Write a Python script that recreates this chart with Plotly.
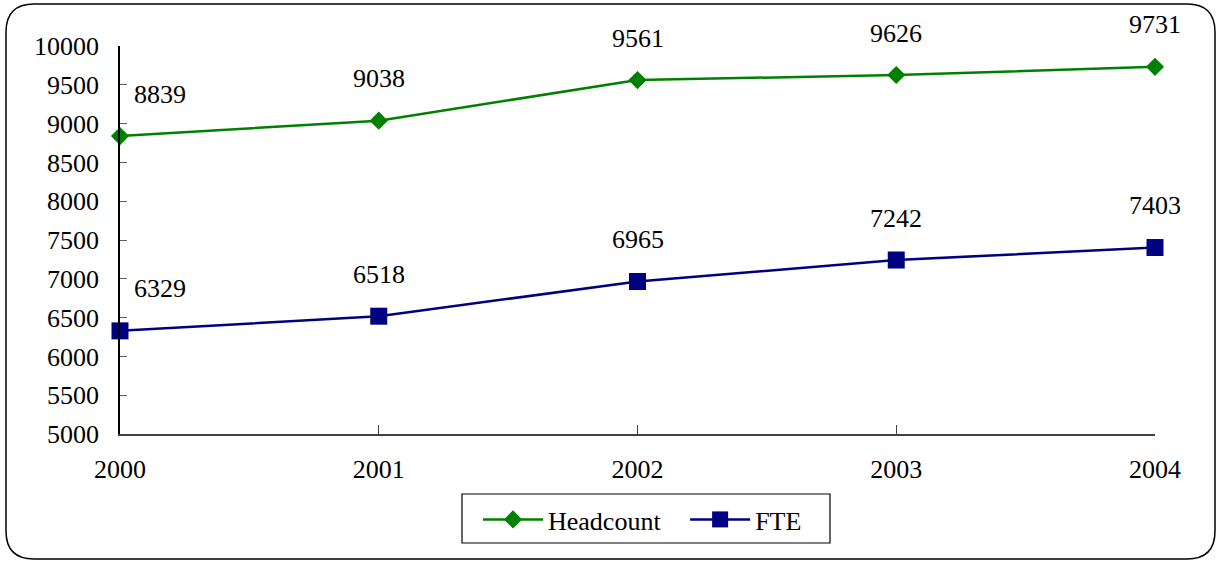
import plotly.graph_objects as go

years = ["2000", "2001", "2002", "2003", "2004"]
headcount = [8839, 9038, 9561, 9626, 9731]
fte = [6329, 6518, 6965, 7242, 7403]

W, H = 1218, 562
L, R, T, B = 120, 63, 46, 128
FONT = "Liberation Serif, Times New Roman, serif"
NB = "\u00a0"

fig = go.Figure()
fig.add_trace(go.Scatter(x=years, y=headcount, name="Headcount" + NB * 3, mode="lines+markers",
                         line=dict(color="#008000", width=2.5), cliponaxis=False,
                         marker=dict(symbol="diamond", size=14, color="#008000")))
fig.add_trace(go.Scatter(x=years, y=fte, name="FTE", mode="lines+markers",
                         line=dict(color="#000080", width=2.5), cliponaxis=False,
                         marker=dict(symbol="square", size=17, color="#000080")))

# data labels above each point (first one pushed right like the original)
for series in (headcount, fte):
    for i, v in enumerate(series):
        fig.add_annotation(x=i, y=v, text=str(v), showarrow=False,
                           xanchor="left" if i == 0 else "center",
                           xshift=12 if i == 0 else 0, yshift=42,
                           font=dict(family=FONT, size=26, color="black"))

# rounded outer frame, pixel -> paper conversion
pw, ph = W - L - R, H - T - B
def px(x): return (x - L) / pw
def py(y): return (H - B - y) / ph
x0, x1, y0, y1, r = 6, 1215, 4, 559, 28
path = (f"M {px(x0 + r)},{py(y0)} L {px(x1 - r)},{py(y0)} "
        f"Q {px(x1)},{py(y0)} {px(x1)},{py(y0 + r)} L {px(x1)},{py(y1 - r)} "
        f"Q {px(x1)},{py(y1)} {px(x1 - r)},{py(y1)} L {px(x0 + r)},{py(y1)} "
        f"Q {px(x0)},{py(y1)} {px(x0)},{py(y1 - r)} L {px(x0)},{py(y0 + r)} "
        f"Q {px(x0)},{py(y0)} {px(x0 + r)},{py(y0)} Z")
fig.add_shape(type="path", xref="paper", yref="paper", path=path,
              line=dict(color="black", width=1.5), layer="below")
# legend frame
fig.add_shape(type="rect", xref="paper", yref="paper",
              x0=px(462), x1=px(830), y0=py(494), y1=py(543),
              line=dict(color="black", width=1.2))

fig.update_layout(
    width=W, height=H,
    margin=dict(l=L, r=R, t=T, b=B),
    paper_bgcolor="white", plot_bgcolor="white",
    font=dict(family=FONT, size=26, color="black"),
    showlegend=True,
    legend=dict(orientation="h", x=px(478), xanchor="left", y=py(496), yanchor="top",
                borderwidth=0, itemwidth=60, bgcolor="rgba(0,0,0,0)",
                font=dict(family=FONT, size=26)),
    xaxis=dict(type="category", range=[0, 4], showgrid=False, showline=True,
               linecolor="#404040", linewidth=1.5, ticks="inside", ticklen=9,
               tickcolor="#404040", ticklabelstandoff=11),
    yaxis=dict(range=[5000, 10000], dtick=500, tickformat="d", showgrid=False,
               showline=True, linecolor="black", linewidth=1.5, ticks="inside",
               ticklen=7, tickcolor="#606060", zeroline=False, ticklabelstandoff=14),
)

fig.write_html("out.html", config={"displayModeBar": False},
               post_script="document.body.style.margin='0';")
